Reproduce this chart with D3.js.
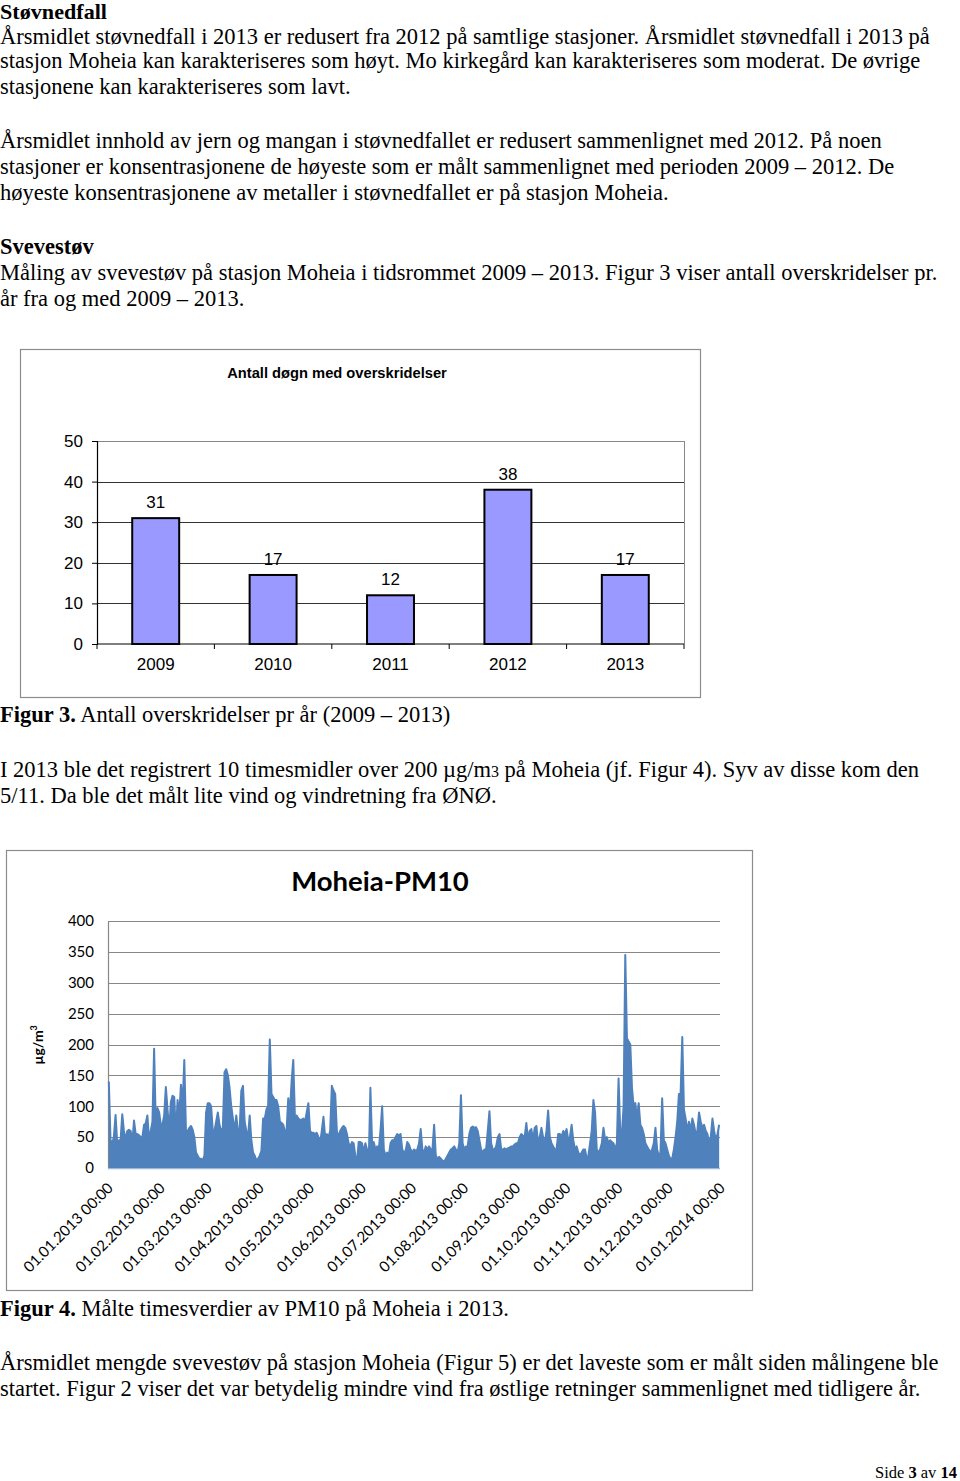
<!DOCTYPE html>
<html><head><meta charset="utf-8">
<script src="https://cdn.jsdelivr.net/npm/d3@7"></script>
<style>
html,body{margin:0;padding:0;background:#fff;}
svg{display:block;}
</style></head>
<body>
<svg id="page" width="960" height="1481"></svg>
<script>
// ---------- Data ----------
const years = ["2009","2010","2011","2012","2013"];
const exceedDays = [31,17,12,38,17];
const yTicks1 = [0,10,20,30,40,50];

const yTicks2 = [0,50,100,150,200,250,300,350,400];
// Daily maximum of hourly PM10 (µg/m³) at Moheia, 2013
const pm10DailyMax = [
140,45,40,50,86,40,45,45,87,60,45,60,62,60,40,77,55,55,53,50,50,70,72,85,45,60,75,193,70,97,90,
70,70,85,131,95,60,107,117,115,55,110,85,135,100,175,60,60,65,68,62,50,25,20,15,15,12,20,
90,105,105,100,60,60,75,90,70,60,65,155,160,150,130,100,80,60,85,60,60,125,133,75,60,50,85,45,25,20,12,15,
20,28,80,80,95,100,208,120,115,110,110,100,75,73,70,60,60,113,90,140,175,80,85,80,78,78,80,75,90,105,
60,57,57,55,57,50,40,60,83,50,55,50,60,133,125,120,60,50,60,65,68,65,55,40,35,42,40,20,10,42,42,
40,25,40,30,10,130,40,42,30,35,30,60,100,30,20,25,20,40,45,45,50,55,52,55,30,25,28,42,38,30,
25,30,28,30,40,63,30,25,35,30,35,30,30,70,20,15,18,15,12,10,15,20,25,30,32,35,30,25,40,118,40,
30,35,35,55,65,67,65,66,60,45,30,25,30,30,60,92,40,30,30,35,50,55,30,30,32,30,32,33,35,35,38,40,
40,50,55,52,50,73,45,60,63,45,65,68,40,50,65,50,40,60,93,50,40,35,30,30,55,55,50,60,55,63,
45,50,70,45,30,35,25,20,25,30,30,15,20,40,60,110,90,30,25,30,40,65,45,50,40,45,42,40,30,40,145,
60,55,100,345,210,205,200,130,100,105,80,105,70,65,55,40,35,30,25,30,40,65,30,20,25,113,45,40,30,20,
15,15,30,50,75,120,120,212,95,80,60,75,60,80,70,55,60,90,75,65,70,60,55,40,50,80,60,45,55,70
];

// ---------- Page ----------
const svg = d3.select("#page");
const serif = "'Liberation Serif','Times New Roman',serif";
const sans = "'Liberation Sans',Arial,sans-serif";
const cal = "Lato,'Open Sans',sans-serif";

function line(y, parts, size){
  const t = svg.append("text").attr("x",0).attr("y",y)
    .attr("font-family",serif).attr("font-size",size||22.5).attr("fill","#000");
  parts.forEach(p=>{
    if(typeof p==="string") t.append("tspan").text(p);
    else { const s=t.append("tspan").text(p.t); if(p.b) s.attr("font-weight","bold"); if(p.s) s.attr("font-size",p.s); }
  });
  return t;
}
line(18.8,[{t:"Støvnedfall",b:true}],21).attr("textLength",107).attr("lengthAdjust","spacingAndGlyphs");
line(43.5,["Årsmidlet støvnedfall i 2013 er redusert fra 2012 på samtlige stasjoner. Årsmidlet støvnedfall i 2013 på"]);
line(68,["stasjon Moheia kan karakteriseres som høyt. Mo kirkegård kan karakteriseres som moderat. De øvrige"]);
line(94,["stasjonene kan karakteriseres som lavt."]);
line(148,["Årsmidlet innhold av jern og mangan i støvnedfallet er redusert sammenlignet med 2012. På noen"]);
line(174,["stasjoner er konsentrasjonene de høyeste som er målt sammenlignet med perioden 2009 – 2012. De"]);
line(200,["høyeste konsentrasjonene av metaller i støvnedfallet er på stasjon Moheia."]);
line(254,[{t:"Svevestøv",b:true}]);
line(280,["Måling av svevestøv på stasjon Moheia i tidsrommet 2009 – 2013. Figur 3 viser antall overskridelser pr."]);
line(306,["år fra og med 2009 – 2013."]);
line(722,[{t:"Figur 3.",b:true}," Antall overskridelser pr år (2009 – 2013)"]);
line(777,["I 2013 ble det registrert 10 timesmidler over 200 µg/m",{t:"3",s:16}," på Moheia (jf. Figur 4). Syv av disse kom den"]);
line(803,["5/11. Da ble det målt lite vind og vindretning fra ØNØ."]);
line(1316,[{t:"Figur 4.",b:true}," Målte timesverdier av PM10 på Moheia i 2013."]);
line(1370,["Årsmidlet mengde svevestøv på stasjon Moheia (Figur 5) er det laveste som er målt siden målingene ble"]);
line(1396,["startet. Figur 2 viser det var betydelig mindre vind fra østlige retninger sammenlignet med tidligere år."]);
line(1478,["Side ",{t:"3",b:true}," av ",{t:"14",b:true}],16.5).attr("x",957).attr("text-anchor","end");

// ---------- Chart 1 ----------
const c1 = svg.append("g");
c1.append("rect").attr("x",20.5).attr("y",349.5).attr("width",680).attr("height",348)
  .attr("fill","#fff").attr("stroke","#8c8c8c").attr("stroke-width",1.2);
c1.append("text").attr("x",337).attr("y",378).attr("text-anchor","middle")
  .attr("font-family",sans).attr("font-weight","bold").attr("font-size",14.7).text("Antall døgn med overskridelser");

const x1 = d3.scaleBand().domain(years).range([97,684]).paddingInner(0.6).paddingOuter(0.3);
const xb = d3.scaleBand().domain(years).range([97,684]);
const y1 = d3.scaleLinear().domain([0,50]).range([644,441]);

// grid
c1.selectAll("line.g").data(yTicks1.filter(d=>d>0)).join("line")
  .attr("x1",97).attr("x2",684).attr("y1",d=>Math.round(y1(d))+0.5).attr("y2",d=>Math.round(y1(d))+0.5)
  .attr("stroke",d=>d===50?"#888":"#333").attr("stroke-width",1);
c1.append("line").attr("x1",684.5).attr("x2",684.5).attr("y1",441).attr("y2",644).attr("stroke","#888");

// bars
c1.selectAll("rect.bar").data(exceedDays).join("rect")
  .attr("x",(d,i)=>x1(years[i])).attr("width",x1.bandwidth())
  .attr("y",d=>y1(d)).attr("height",d=>y1(0)-y1(d))
  .attr("fill","#9999ff").attr("stroke","#000").attr("stroke-width",2);
c1.selectAll("text.lab").data(exceedDays).join("text")
  .attr("x",(d,i)=>x1(years[i])+x1.bandwidth()/2).attr("y",d=>y1(d)-10)
  .attr("text-anchor","middle").attr("font-family",sans).attr("font-size",17).text(d=>d);

// axes
const ax1 = c1.append("g").attr("transform","translate(97,0)")
  .call(d3.axisLeft(y1).tickValues(yTicks1).tickSize(5).tickPadding(9));
ax1.select(".domain").attr("stroke","#000").attr("stroke-width",1.2);
ax1.selectAll("text").attr("font-family",sans).attr("font-size",17).attr("fill","#000");
ax1.selectAll(".tick line").attr("stroke","#000");
const bx1 = c1.append("g").attr("transform","translate(0,644)");
bx1.append("line").attr("x1",97).attr("x2",684).attr("stroke","#000").attr("stroke-width",1.2);
bx1.selectAll("line.t").data([...years.map(y=>xb(y)), 684]).join("line")
  .attr("x1",d=>d).attr("x2",d=>d).attr("y1",0).attr("y2",5).attr("stroke","#000");
bx1.selectAll("text").data(years).join("text")
  .attr("x",d=>xb(d)+xb.bandwidth()/2).attr("y",26).attr("text-anchor","middle")
  .attr("font-family",sans).attr("font-size",17).text(d=>d);

// ---------- Chart 2 ----------
const c2 = svg.append("g");
c2.append("rect").attr("x",6.5).attr("y",850.5).attr("width",746).attr("height",440)
  .attr("fill","#fff").attr("stroke","#8c8c8c").attr("stroke-width",1.2);
c2.append("text").attr("x",380).attr("y",891).attr("text-anchor","middle")
  .attr("font-family",cal).attr("font-weight","bold").attr("font-size",27.5).text("Moheia-PM10");

const start = new Date(2013,0,1), end = new Date(2014,0,1);
const x2 = d3.scaleTime().domain([start,end]).range([108,720]);
const y2 = d3.scaleLinear().domain([0,400]).range([1168,921]);

c2.selectAll("line.g").data(yTicks2.filter(d=>d>0)).join("line")
  .attr("x1",108).attr("x2",720).attr("y1",d=>Math.round(y2(d))+0.5).attr("y2",d=>Math.round(y2(d))+0.5)
  .attr("stroke","#878787").attr("stroke-width",1.2);

const ay2 = c2.append("g").attr("transform","translate(108,0)")
  .call(d3.axisLeft(y2).tickValues(yTicks2).tickSize(0).tickPadding(14));
ay2.select(".domain").attr("stroke","#878787").attr("stroke-width",1.2);
ay2.selectAll("text").attr("font-family",cal).attr("font-size",15).attr("fill","#000");

c2.append("line").attr("x1",108).attr("x2",720).attr("y1",1168.5).attr("y2",1168.5).attr("stroke","#9cb8dc").attr("stroke-width",1.5);

const series = pm10DailyMax.map((v,i)=>({date:d3.timeHour.offset(d3.timeDay.offset(start,i),12), v}));
const area = d3.area().x(d=>x2(d.date)).y0(y2(0)).y1(d=>y2(d.v));
c2.append("path").datum(series).attr("d",area).attr("fill","#4f81bd");
c2.append("path").datum(series).attr("d",d3.line().x(d=>x2(d.date)).y(d=>y2(d.v)))
  .attr("fill","none").attr("stroke","#4f81bd").attr("stroke-width",2).attr("stroke-linejoin","round");

const fmt = d3.timeFormat("%d.%m.%Y %H:%M");
const months = d3.timeMonth.range(start, d3.timeDay.offset(end,1));
c2.selectAll("text.xl").data(months).join("text")
  .attr("transform",d=>`translate(${x2(d)+6},1189) rotate(-45)`)
  .attr("text-anchor","end").attr("font-family",cal).attr("font-size",15).text(d=>fmt(d));

c2.append("text").attr("transform","translate(43,1045) rotate(-90)").attr("text-anchor","middle")
  .attr("font-family",cal).attr("font-weight","bold").attr("font-size",14)
  .call(t=>{t.append("tspan").text("µg/m"); t.append("tspan").attr("font-size",9).attr("dy",-6).text("3");});
</script>
</body></html>
